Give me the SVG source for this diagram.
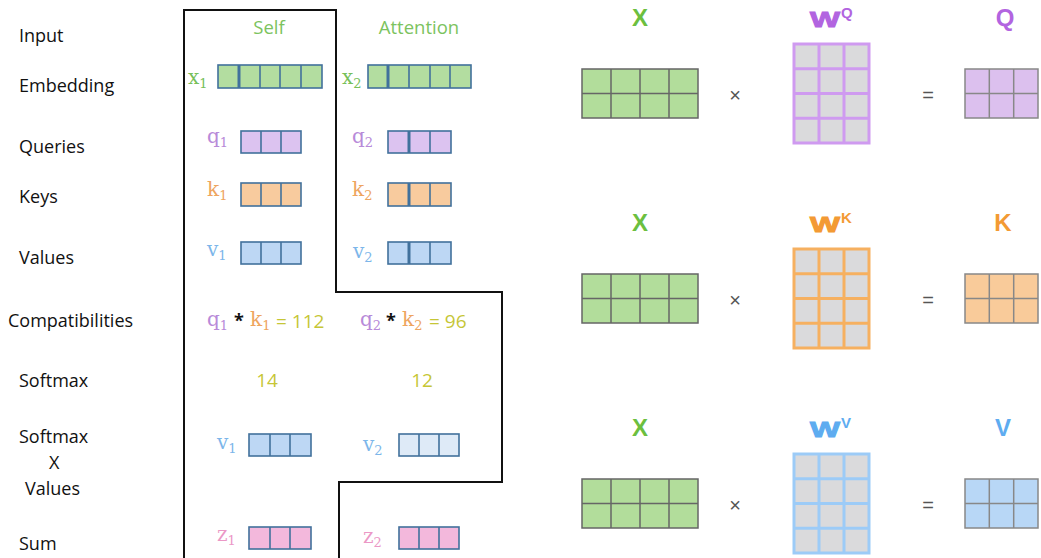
<svg xmlns="http://www.w3.org/2000/svg" width="1041" height="558" viewBox="0 0 1041 558">
<style>
.lbl{font-family:"Open Sans","Noto Sans",sans-serif;font-size:18px;fill:#111}
.hdr{font-family:"Open Sans","Noto Sans",sans-serif;font-size:18.5px;fill:#7cc35e}
.m{font-family:"DejaVu Serif","Liberation Serif",serif;font-size:20px}
.sub{font-size:13px}
.num{font-family:"Open Sans","Noto Sans",sans-serif;font-size:19px;fill:#c6c636}
.ast{font-family:"Open Sans","Noto Sans",sans-serif;font-size:18px;font-weight:bold;fill:#111}
.cg{fill:#77c05a}.cq{fill:#b88ad9}.ck{fill:#eea55e}.cv{fill:#7cb6ea}.cz{fill:#eb98c6}
.vec{stroke:#41719c;stroke-width:1.6}
.div{stroke:#41719c;stroke-width:1.6}
.divb{stroke:#41719c;stroke-width:3}
.big{font-family:"Liberation Sans","Arial",sans-serif;font-weight:bold}
.op{font-family:"Liberation Sans","Arial",sans-serif;font-size:20px;fill:#555}
.mx{fill:#b2dd9b;stroke:#666;stroke-width:1.5}
.mxl{stroke:#666;stroke-width:1.5}
.wg{fill:#dadadc;stroke-width:3}
.rl{stroke:#888;stroke-width:1.5}
.wl{stroke-width:1}
</style>

<g id="row-labels">
<text class="lbl" x="19" y="42">Input</text>
<text class="lbl" x="19" y="92">Embedding</text>
<text class="lbl" x="19" y="153">Queries</text>
<text class="lbl" x="19" y="203">Keys</text>
<text class="lbl" x="19" y="264">Values</text>
<text class="lbl" x="8" y="327">Compatibilities</text>
<text class="lbl" x="19" y="387">Softmax</text>
<text class="lbl" x="19" y="443">Softmax</text>
<text class="lbl" x="49" y="469">X</text>
<text class="lbl" x="25" y="495">Values</text>
<text class="lbl" x="19" y="550">Sum</text>
</g>

<g id="connectors">
<path d="M184,558 L184,10 L336,10 L336,292 L502,292 L502,482 L339,482 L339,558" fill="none" stroke="#111" stroke-width="2"/>
</g>

<g id="headers">
<text class="hdr" x="269" y="34" text-anchor="middle">Self</text>
<text class="hdr" x="419" y="34" text-anchor="middle">Attention</text>
</g>

<g id="x1">
<text class="m cg" x="188" y="84">x<tspan class="sub" dy="4">1</tspan></text>
<rect class="vec" x="218" y="65" width="104" height="23" fill="#b3dda0"/>
<line class="divb" x1="239" y1="65" x2="239" y2="88"/>
<line class="div" x1="260" y1="65" x2="260" y2="88"/>
<line class="div" x1="280" y1="65" x2="280" y2="88"/>
<line class="div" x1="301" y1="65" x2="301" y2="88"/>
</g>
<g id="x2">
<text class="m cg" x="342" y="84">x<tspan class="sub" dy="4">2</tspan></text>
<rect class="vec" x="368" y="65" width="103" height="23" fill="#b3dda0"/>
<line class="divb" x1="388" y1="65" x2="388" y2="88"/>
<line class="div" x1="409" y1="65" x2="409" y2="88"/>
<line class="div" x1="430" y1="65" x2="430" y2="88"/>
<line class="div" x1="450" y1="65" x2="450" y2="88"/>
</g>

<g id="q1">
<text class="m cq" x="207" y="143">q<tspan class="sub" dy="4">1</tspan></text>
<rect class="vec" x="241" y="131" width="60" height="22" fill="#dcc3f0"/>
<line class="div" x1="261" y1="131" x2="261" y2="153"/>
<line class="div" x1="281" y1="131" x2="281" y2="153"/>
</g>
<g id="q2">
<text class="m cq" x="352" y="143">q<tspan class="sub" dy="4">2</tspan></text>
<rect class="vec" x="388" y="131" width="63" height="22" fill="#dcc3f0"/>
<line class="divb" x1="409" y1="131" x2="409" y2="153"/>
<line class="div" x1="430" y1="131" x2="430" y2="153"/>
</g>

<g id="k1">
<text class="m ck" x="207" y="196">k<tspan class="sub" dy="4">1</tspan></text>
<rect class="vec" x="241" y="183" width="60" height="23" fill="#f8cb9e"/>
<line class="div" x1="261" y1="183" x2="261" y2="206"/>
<line class="div" x1="281" y1="183" x2="281" y2="206"/>
</g>
<g id="k2">
<text class="m ck" x="352" y="196">k<tspan class="sub" dy="4">2</tspan></text>
<rect class="vec" x="388" y="183" width="63" height="23" fill="#f8cb9e"/>
<line class="divb" x1="409" y1="183" x2="409" y2="206"/>
<line class="div" x1="430" y1="183" x2="430" y2="206"/>
</g>

<g id="v1">
<text class="m cv" x="207" y="256">v<tspan class="sub" dy="4">1</tspan></text>
<rect class="vec" x="241" y="242" width="60" height="22" fill="#bdd7f4"/>
<line class="div" x1="261" y1="242" x2="261" y2="264"/>
<line class="div" x1="281" y1="242" x2="281" y2="264"/>
</g>
<g id="v2">
<text class="m cv" x="353" y="258">v<tspan class="sub" dy="4">2</tspan></text>
<rect class="vec" x="388" y="242" width="63" height="22" fill="#bdd7f4"/>
<line class="divb" x1="409" y1="242" x2="409" y2="264"/>
<line class="div" x1="430" y1="242" x2="430" y2="264"/>
</g>

<g id="compat1">
<text class="m cq" x="207" y="326">q<tspan class="sub" dy="4">1</tspan></text>
<text class="ast" x="234" y="327">*</text>
<text class="m ck" x="250" y="326">k<tspan class="sub" dy="4">1</tspan></text>
<text class="num" x="276" y="328">= 112</text>
</g>
<g id="compat2">
<text class="m cq" x="360" y="326">q<tspan class="sub" dy="4">2</tspan></text>
<text class="ast" x="386" y="327">*</text>
<text class="m ck" x="402" y="326">k<tspan class="sub" dy="4">2</tspan></text>
<text class="num" x="429" y="328">= 96</text>
</g>

<g id="softmax1"><text class="num" x="267" y="387" text-anchor="middle">14</text></g>
<g id="softmax2"><text class="num" x="422" y="387" text-anchor="middle">12</text></g>

<g id="sv1">
<text class="m cv" x="217" y="449">v<tspan class="sub" dy="4">1</tspan></text>
<rect class="vec" x="249" y="434" width="62" height="22" fill="#bdd7f4"/>
<line class="div" x1="270" y1="434" x2="270" y2="456"/>
<line class="div" x1="290" y1="434" x2="290" y2="456"/>
</g>
<g id="sv2">
<text class="m cv" x="363" y="451">v<tspan class="sub" dy="4">2</tspan></text>
<rect class="vec" x="399" y="434" width="60" height="22" fill="#deeaf7"/>
<line class="div" x1="419" y1="434" x2="419" y2="456"/>
<line class="div" x1="439" y1="434" x2="439" y2="456"/>
</g>

<g id="z1">
<text class="m cz" x="217" y="541">z<tspan class="sub" dy="4">1</tspan></text>
<rect class="vec" x="249" y="527" width="62" height="22" fill="#f3b8dc"/>
<line class="div" x1="270" y1="527" x2="270" y2="549"/>
<line class="div" x1="290" y1="527" x2="290" y2="549"/>
</g>
<g id="z2">
<text class="m cz" x="363" y="543">z<tspan class="sub" dy="4">2</tspan></text>
<rect class="vec" x="399" y="527" width="60" height="22" fill="#f3b8dc"/>
<line class="div" x1="419" y1="527" x2="419" y2="549"/>
<line class="div" x1="439" y1="527" x2="439" y2="549"/>
</g>

<defs>
<g id="xmat">
<rect class="mx" x="582" y="69" width="116" height="49"/>
<line class="mxl" x1="611" y1="69" x2="611" y2="118"/>
<line class="mxl" x1="640" y1="69" x2="640" y2="118"/>
<line class="mxl" x1="669" y1="69" x2="669" y2="118"/>
<line class="mxl" x1="582" y1="93.5" x2="698" y2="93.5"/>
</g>
<g id="wgrid">
<line x1="819" y1="44" x2="819" y2="143"/>
<line x1="844" y1="44" x2="844" y2="143"/>
<line x1="794" y1="68.75" x2="869" y2="68.75"/>
<line x1="794" y1="93.5" x2="869" y2="93.5"/>
<line x1="794" y1="118.25" x2="869" y2="118.25"/>
</g>
<g id="rgrid">
<line x1="989.3" y1="69" x2="989.3" y2="118"/>
<line x1="1013.7" y1="69" x2="1013.7" y2="118"/>
<line x1="965" y1="93.5" x2="1038" y2="93.5"/>
</g>
</defs>

<g id="row-q">
<text class="big" x="640" y="26" font-size="24" fill="#6cbf3f" text-anchor="middle">X</text>
<use href="#xmat"/>
<text class="op" x="735" y="102" text-anchor="middle">×</text>
<text class="big wl" x="810" y="27" font-size="22" fill="#b264e0" stroke="#b264e0" textLength="30" lengthAdjust="spacingAndGlyphs">W</text>
<text class="big" x="841" y="18" font-size="15" fill="#b264e0">Q</text>
<rect class="wg" x="794" y="44" width="75" height="99" stroke="#cf9af0"/>
<use href="#wgrid" stroke="#cf9af0" stroke-width="3"/>
<text class="op" x="928" y="102" text-anchor="middle">=</text>
<text class="big" x="1005" y="26" font-size="24" fill="#b264e0" text-anchor="middle">Q</text>
<rect x="965" y="69" width="73" height="49" fill="#dcc0ee" stroke="#888" stroke-width="1.5"/>
<use href="#rgrid" class="rl"/>
</g>

<g id="row-k" transform="translate(0,205)">
<text class="big" x="640" y="26" font-size="24" fill="#6cbf3f" text-anchor="middle">X</text>
<use href="#xmat"/>
<text class="op" x="735" y="102" text-anchor="middle">×</text>
<text class="big wl" x="810" y="27" font-size="22" fill="#f39a34" stroke="#f39a34" textLength="30" lengthAdjust="spacingAndGlyphs">W</text>
<text class="big" x="841" y="18" font-size="15" fill="#f39a34">K</text>
<rect class="wg" x="794" y="44" width="75" height="99" stroke="#f6b060"/>
<use href="#wgrid" stroke="#f6b060" stroke-width="3"/>
<text class="op" x="928" y="102" text-anchor="middle">=</text>
<text class="big" x="1003" y="26" font-size="24" fill="#f39a34" text-anchor="middle">K</text>
<rect x="965" y="69" width="73" height="49" fill="#f9cb9a" stroke="#888" stroke-width="1.5"/>
<use href="#rgrid" class="rl"/>
</g>

<g id="row-v" transform="translate(0,410)">
<text class="big" x="640" y="26" font-size="24" fill="#6cbf3f" text-anchor="middle">X</text>
<use href="#xmat"/>
<text class="op" x="735" y="102" text-anchor="middle">×</text>
<text class="big wl" x="810" y="27" font-size="22" fill="#5eacf0" stroke="#5eacf0" textLength="30" lengthAdjust="spacingAndGlyphs">W</text>
<text class="big" x="841" y="18" font-size="15" fill="#5eacf0">V</text>
<rect class="wg" x="794" y="44" width="75" height="99" stroke="#9ccbf7"/>
<use href="#wgrid" stroke="#9ccbf7" stroke-width="3"/>
<text class="op" x="928" y="102" text-anchor="middle">=</text>
<text class="big" x="1003" y="26" font-size="24" fill="#5eacf0" text-anchor="middle">V</text>
<rect x="965" y="69" width="73" height="49" fill="#b8d7f6" stroke="#888" stroke-width="1.5"/>
<use href="#rgrid" class="rl"/>
</g>
</svg>
